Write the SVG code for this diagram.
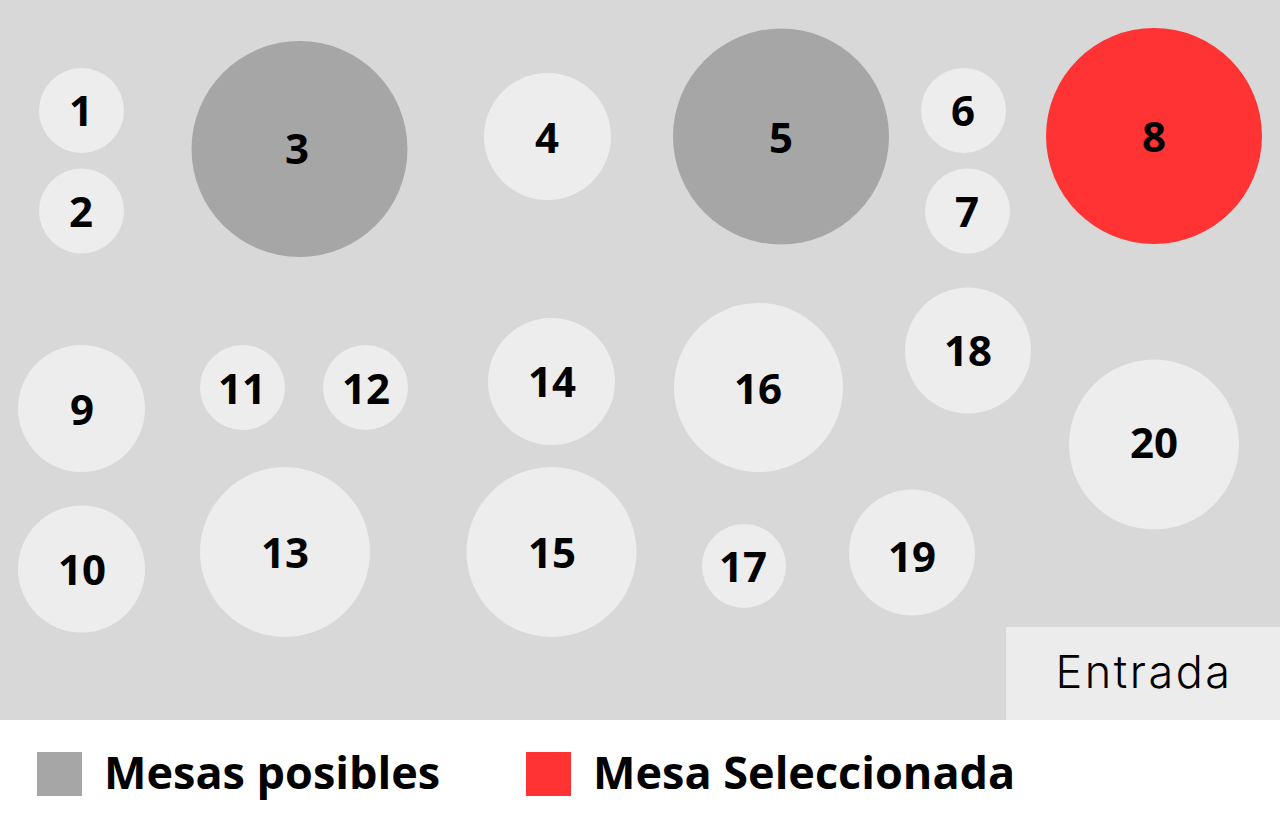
<svg xmlns="http://www.w3.org/2000/svg" width="1280" height="820" viewBox="0 0 1280 820">
<style>
.free{fill:#ededed}
.poss{fill:#a6a6a6}
.sel{fill:#ff3333}
.num{font-family:"Open Sans","Liberation Sans",sans-serif;font-weight:700;font-size:42px;fill:#000;text-anchor:middle}
.leg{font-family:"Open Sans","Liberation Sans",sans-serif;font-weight:700;font-size:45px;fill:#000}
.ent{font-family:"Inter","Lato","Liberation Sans",sans-serif;font-weight:300;font-size:45px;fill:#000;text-anchor:middle;letter-spacing:2.5px}
</style>
<rect x="0" y="0" width="1280" height="720" fill="#d8d8d8"/>
<rect x="0" y="720" width="1280" height="100" fill="#ffffff"/>
<g id="entrada"><rect x="1006" y="627" width="274" height="93" fill="#ececec"/><text class="ent" x="1144" y="688">Entrada</text></g>
<g id="connectors"></g>
<g id="mesa1"><circle class="free" cx="81.5" cy="110.5" r="42.5"/><text class="num" x="81" y="126">1</text></g>
<g id="mesa2"><circle class="free" cx="81.5" cy="211" r="42.5"/><text class="num" x="81" y="227">2</text></g>
<g id="mesa3"><circle class="poss" cx="299.5" cy="149" r="108"/><text class="num" x="297" y="164">3</text></g>
<g id="mesa4"><circle class="free" cx="547.5" cy="136.5" r="63.5"/><text class="num" x="547" y="153">4</text></g>
<g id="mesa5"><circle class="poss" cx="781" cy="136.5" r="108"/><text class="num" x="781" y="153">5</text></g>
<g id="mesa6"><circle class="free" cx="963.5" cy="110.5" r="42.5"/><text class="num" x="963" y="126">6</text></g>
<g id="mesa7"><circle class="free" cx="967.5" cy="211" r="42.5"/><text class="num" x="967" y="227">7</text></g>
<g id="mesa8"><circle class="sel" cx="1154" cy="136" r="108"/><text class="num" x="1154" y="152">8</text></g>
<g id="mesa9"><circle class="free" cx="81.5" cy="408.5" r="63.5"/><text class="num" x="82" y="425">9</text></g>
<g id="mesa10"><circle class="free" cx="81.5" cy="569" r="63.5"/><text class="num" x="82" y="585">10</text></g>
<g id="mesa11"><circle class="free" cx="242.5" cy="387.5" r="42.5"/><text class="num" x="242" y="404">11</text></g>
<g id="mesa12"><circle class="free" cx="365.5" cy="387.5" r="42.5"/><text class="num" x="366" y="404">12</text></g>
<g id="mesa13"><circle class="free" cx="285" cy="552" r="85"/><text class="num" x="285" y="568">13</text></g>
<g id="mesa14"><circle class="free" cx="551.5" cy="381.5" r="63.5"/><text class="num" x="552" y="397">14</text></g>
<g id="mesa15"><circle class="free" cx="551.5" cy="552" r="85"/><text class="num" x="552" y="568">15</text></g>
<g id="mesa16"><circle class="free" cx="758.5" cy="387.5" r="84.5"/><text class="num" x="758" y="404">16</text></g>
<g id="mesa17"><circle class="free" cx="744" cy="566" r="42"/><text class="num" x="743" y="582">17</text></g>
<g id="mesa18"><circle class="free" cx="968" cy="350.5" r="63"/><text class="num" x="968" y="366">18</text></g>
<g id="mesa19"><circle class="free" cx="912" cy="552.5" r="63"/><text class="num" x="912" y="572">19</text></g>
<g id="mesa20"><circle class="free" cx="1154" cy="444.5" r="85"/><text class="num" x="1154" y="458">20</text></g>
<g id="legend">
<rect class="poss" x="37" y="752" width="45" height="44"/>
<text class="leg" x="104" y="789">Mesas posibles</text>
<rect class="sel" x="526" y="752" width="45" height="44"/>
<text class="leg" x="593" y="789">Mesa Seleccionada</text>
</g>
</svg>
